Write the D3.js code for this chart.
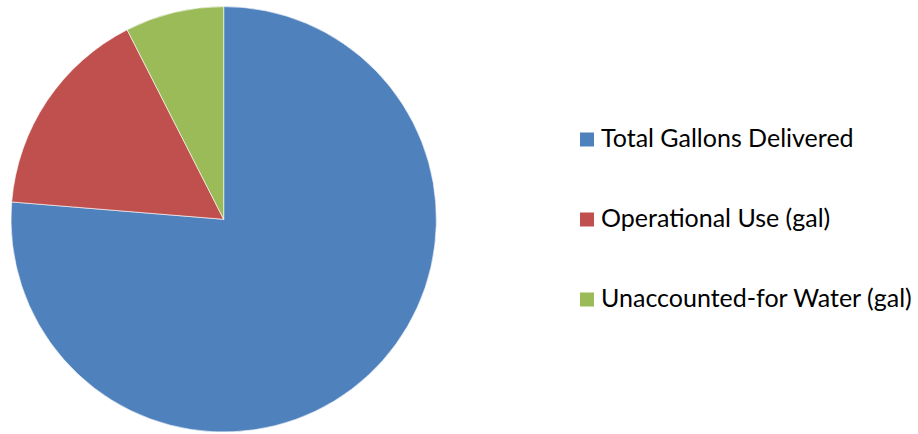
<!DOCTYPE html>
<html>
<head>
<meta charset="utf-8">
<script src="https://cdn.jsdelivr.net/npm/d3@7"></script>
<style>
  html, body { margin: 0; padding: 0; background: #fff; }
  svg { display: block; }
</style>
</head>
<body>
<div id="chart"></div>
<script>
// slice shares (percent of total)
var categories = ['Total Gallons Delivered', 'Operational Use (gal)', 'Unaccounted-for Water (gal)'];
var values = [76.3, 16.2, 7.5];
var colors = ['#4F81BD', '#C0504D', '#9BBB59'];

var width = 918, height = 434;
var cx = 223.7, cy = 219.3, radius = 212.7;

var svg = d3.select('#chart').append('svg')
  .attr('width', width)
  .attr('height', height);

var pie = d3.pie().sort(null).value(function (d) { return d; });
var arc = d3.arc().innerRadius(0).outerRadius(radius);

var g = svg.append('g').attr('transform', 'translate(' + cx + ',' + cy + ')');

g.selectAll('path')
  .data(pie(values))
  .enter().append('path')
  .attr('d', arc)
  .attr('fill', function (d, i) { return colors[i]; })
  .attr('stroke', '#fff')
  .attr('stroke-width', 0.6);

// legend
var legend = svg.append('g').attr('transform', 'translate(580,131)');
var rowGap = 80;

var item = legend.selectAll('g.item')
  .data(categories)
  .enter().append('g')
  .attr('class', 'item')
  .attr('transform', function (d, i) { return 'translate(0,' + (i * rowGap) + ')'; });

item.append('rect')
  .attr('width', 14).attr('height', 14)
  .attr('y', 1.5)
  .attr('fill', function (d, i) { return colors[i]; });

item.append('text')
  .attr('x', 21)
  .attr('y', 15.7)
  .style('font-family', 'Lato, "Open Sans", sans-serif')
  .style('font-size', '25px')
  .attr('fill', '#000')
  .text(function (d) { return d; });
</script>
</body>
</html>
